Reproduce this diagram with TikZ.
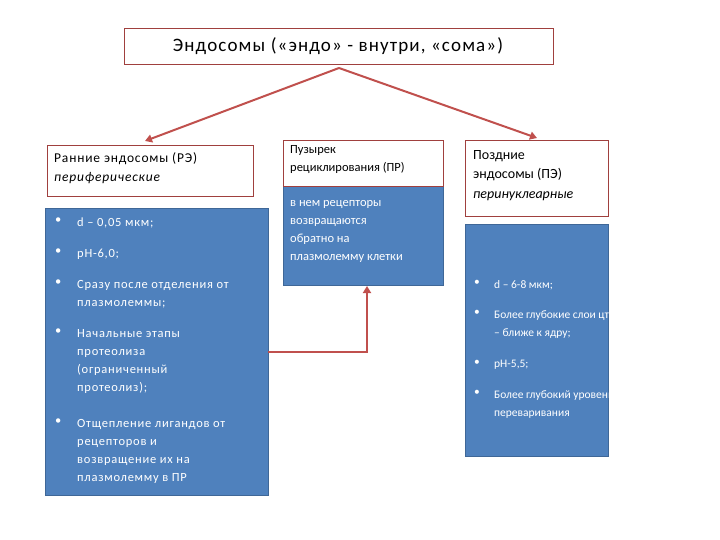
\documentclass[tikz,border=0pt]{standalone}
\usepackage{fontspec}
\setmainfont{Carlito}
\newfontfamily\widefont[LetterSpace=6]{Carlito}
\usetikzlibrary{arrows.meta}
\definecolor{ofblue}{HTML}{4F81BD}
\definecolor{ofred}{HTML}{C0504D}
\definecolor{hdred}{HTML}{A0403E}
\tikzset{
 hdr/.style={draw=hdred,line width=1.2pt,fill=white,anchor=north west,inner sep=0pt},
 bluebox/.style={draw=ofblue!80!black,fill=ofblue,anchor=north west,inner sep=0pt},
 conn/.style={draw=ofred,line width=2pt,-{Triangle[length=7pt,width=8pt]}},
 txt/.style={anchor=north west,align=left,inner sep=0pt,font=\widefont\fontsize{12.5}{18}\selectfont},
 wtxt/.style={txt,text=white},
}
\begin{document}
\begin{tikzpicture}[x=1pt,y=-1pt]
\useasboundingbox (0,0) rectangle (720,540);
% title
\node[hdr,minimum width=429pt,minimum height=36pt] (title) at (124,28) {};
\node[font=\widefont\fontsize{19}{22}\selectfont] (tt) at (338,46) {Эндосомы («эндо» - внутри, «сома»)};
\coordinate (apex) at (339,68);
% left
\node[hdr,minimum width=206pt,minimum height=51pt] (lh) at (47,145) {};
\node[txt,font=\widefont\fontsize{13.5}{19}\selectfont] (lht) at (54,152) {Ранние эндосомы (РЭ)\\\textit{периферические}};
\node[bluebox,minimum width=223pt,minimum height=287pt] (lb) at (45,208) {};
\begin{scope}[every node/.style={wtxt}]
\node (b1) at (55,218) {•};\node (l1) at (77,218) {d – 0,05 мкм;};
\node (b2) at (55,249) {•};\node (l2) at (77,249) {рН-6,0;};
\node (b3) at (55,280) {•};\node (l3) at (77,280) {Сразу после отделения от\\плазмолеммы;};
\node (b4) at (55,329) {•};\node (l4) at (77,329) {Начальные этапы\\протеолиза\\(ограниченный\\протеолиз);};
\node (b5) at (55,419) {•};\node (l5) at (77,419) {Отщепление лигандов от\\рецепторов и\\возвращение их на\\плазмолемму в ПР};
\end{scope}
% middle
\node[bluebox,minimum width=160pt,minimum height=145pt] (mb) at (283,140) {};
\node[hdr,minimum width=160pt,minimum height=46pt] (mh) at (283,140) {};
\node[txt,font=\fontsize{12.5}{18}\selectfont] (mht) at (290,145) {Пузырек\\рециклирования (ПР)};
\node[wtxt,font=\fontsize{12.5}{18}\selectfont] (mbt) at (290,200) {в нем рецепторы\\возвращаются\\обратно на\\плазмолемму клетки};
% right
\node[hdr,minimum width=143pt,minimum height=76pt] (rh) at (465,140) {};
\node[txt,font=\fontsize{14}{19.5}\selectfont] (rht) at (473,150) {Поздние\\эндосомы (ПЭ)\\\textit{перинуклеарные}};
\node[bluebox,minimum width=143pt,minimum height=232pt] (rb) at (465,224) {};
\begin{scope}[every node/.style={wtxt,font=\fontsize{11.5}{18}\selectfont}]
\node (r1) at (474,280) {•};\node (rt1) at (494,280) {d – 6-8 мкм;};
\node (r2) at (474,310) {•};\node (rt2) at (494,310) {Более глубокие слои цтпл\\– ближе к ядру;};
\node (r3) at (474,360) {•};\node (rt3) at (494,360) {рН-5,5;};
\node (r4) at (474,390) {•};\node (rt4) at (494,390) {Более глубокий уровень\\переваривания};
\end{scope}
% connectors
\draw[conn] (apex) -- (145,141);
\draw[conn] (apex) -- (537,138);
\coordinate (c1) at (268,352);
\draw[conn] (c1) -- (367,352) -- (367,286);
\end{tikzpicture}
\end{document}
